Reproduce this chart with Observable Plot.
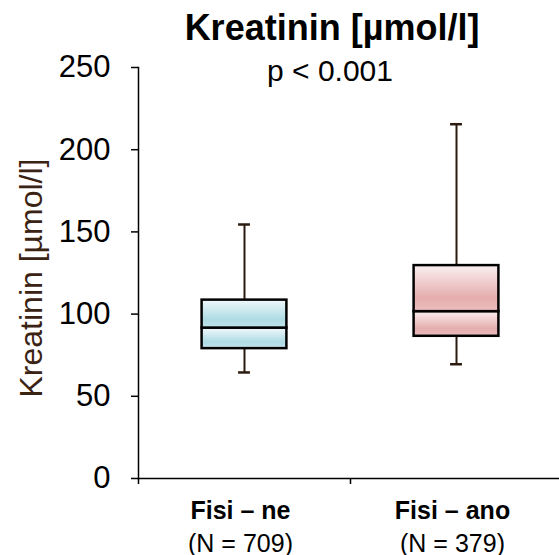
<!DOCTYPE html>
<html>
<head>
<meta charset="utf-8">
<script src="https://cdn.jsdelivr.net/npm/d3@7"></script>
<script src="https://cdn.jsdelivr.net/npm/@observablehq/plot@0.6"></script>
<style>
  html, body { margin: 0; padding: 0; background: #fff; }
  #chart svg { display: block; font-family: "Liberation Sans", Arial, sans-serif; }
</style>
</head>
<body>
<div id="chart"></div>
<script>
// ---- data ----
const categories = ["Fisi – ne", "Fisi – ano"];
const nLabels = ["(N = 709)", "(N = 379)"];
const whiskerLow = [64.5, 69.5];
const q1 = [79, 86.5];
const median = [91.5, 101.5];
const q3 = [108.5, 129.5];
const whiskerHigh = [154.5, 215.5];
const yTicks = [0, 50, 100, 150, 200, 250];
const titleText = "Kreatinin [µmol/l]";
const subtitleText = "p < 0.001";
const yLabelText = "Kreatinin [µmol/l]";
const gradientIds = ["gradBlue", "gradPink"];

const rows = categories.map((c, i) => ({
  cat: c, n: nLabels[i], pos: i + 0.5,
  lo: whiskerLow[i], q1: q1[i], med: median[i], q3: q3[i], hi: whiskerHigh[i],
  grad: `url(#${gradientIds[i]})`
}));

const half = 0.2, cap = 0.028;
const whiskerColor = "#2b1a10";

const chart = Plot.plot({
  width: 559,
  height: 555,
  marginLeft: 138,
  marginRight: -3,
  marginTop: 67,
  marginBottom: 77,
  style: { fontFamily: "Liberation Sans, Arial, sans-serif", background: "#fff", color: "#000" },
  x: { domain: [0, categories.length], axis: null },
  y: { domain: [0, 250], axis: null },
  color: { type: "identity" },
  marks: [
    Plot.axisY({ ticks: yTicks, tickSize: 7, tickPadding: 21, fontSize: 31, tickFormat: d => String(d), stroke: "#000", strokeWidth: 1.5, label: null }),
    Plot.axisX({ ticks: [0, 1, 2], tickSize: 6, tickFormat: () => "", stroke: "#000", strokeWidth: 1.5, label: null }),
    Plot.frame({ anchor: "left", stroke: "#000", strokeWidth: 1.5 }),
    Plot.ruleY([0], { stroke: "#000", strokeWidth: 1.5 }),
    // whiskers
    Plot.ruleX(rows, { x: "pos", y1: "lo", y2: "q1", stroke: whiskerColor, strokeWidth: 2 }),
    Plot.ruleX(rows, { x: "pos", y1: "q3", y2: "hi", stroke: whiskerColor, strokeWidth: 2 }),
    Plot.ruleY(rows, { y: "lo", x1: d => d.pos - cap, x2: d => d.pos + cap, stroke: whiskerColor, strokeWidth: 2.5 }),
    Plot.ruleY(rows, { y: "hi", x1: d => d.pos - cap, x2: d => d.pos + cap, stroke: whiskerColor, strokeWidth: 2.5 }),
    // boxes
    Plot.rectY(rows, { x1: d => d.pos - half, x2: d => d.pos + half, y1: "q1", y2: "med", fill: "grad", stroke: "#000", strokeWidth: 2.5 }),
    Plot.rectY(rows, { x1: d => d.pos - half, x2: d => d.pos + half, y1: "med", y2: "q3", fill: "grad", stroke: "#000", strokeWidth: 2.5 }),
    // category labels
    Plot.text(rows, { x: "pos", frameAnchor: "bottom", lineAnchor: "middle", dx: -4, dy: 32, text: "cat", fontSize: 25, fontWeight: "bold", fill: "#000" }),
    Plot.text(rows, { x: "pos", frameAnchor: "bottom", lineAnchor: "middle", dx: -4, dy: 65, text: "n", fontSize: 25, fill: "#000" }),
    // title & subtitle
    Plot.text([titleText], { frameAnchor: "top", lineAnchor: "middle", dx: -18.5, dy: -39, text: d => d, fontSize: 36, fontWeight: "bold", fill: "#000" }),
    Plot.text([subtitleText], { frameAnchor: "top", lineAnchor: "middle", dx: -20.5, dy: 4, text: d => d, fontSize: 30, fill: "#000" }),
    // y label
    Plot.text([yLabelText], { frameAnchor: "left", lineAnchor: "middle", dx: -107, dy: 5, rotate: -90, textAnchor: "middle", text: d => d, fontSize: 32, fill: "#3b2314" })
  ]
});

// gradient definitions for the box fills
const defs = d3.select(chart).insert("defs", ":first-child");
const gradStops = {
  gradBlue: [["0%", "#f1f9fb"], ["70%", "#afdbe4"], ["100%", "#bfe3ea"]],
  gradPink: [["0%", "#fbf0f0"], ["70%", "#e5adad"], ["100%", "#ecbdbd"]]
};
for (const id of gradientIds) {
  const g = defs.append("linearGradient").attr("id", id).attr("x1", 0).attr("y1", 0).attr("x2", 0).attr("y2", 1);
  for (const [off, col] of gradStops[id]) g.append("stop").attr("offset", off).attr("stop-color", col);
}

document.getElementById("chart").appendChild(chart);
</script>
</body>
</html>
